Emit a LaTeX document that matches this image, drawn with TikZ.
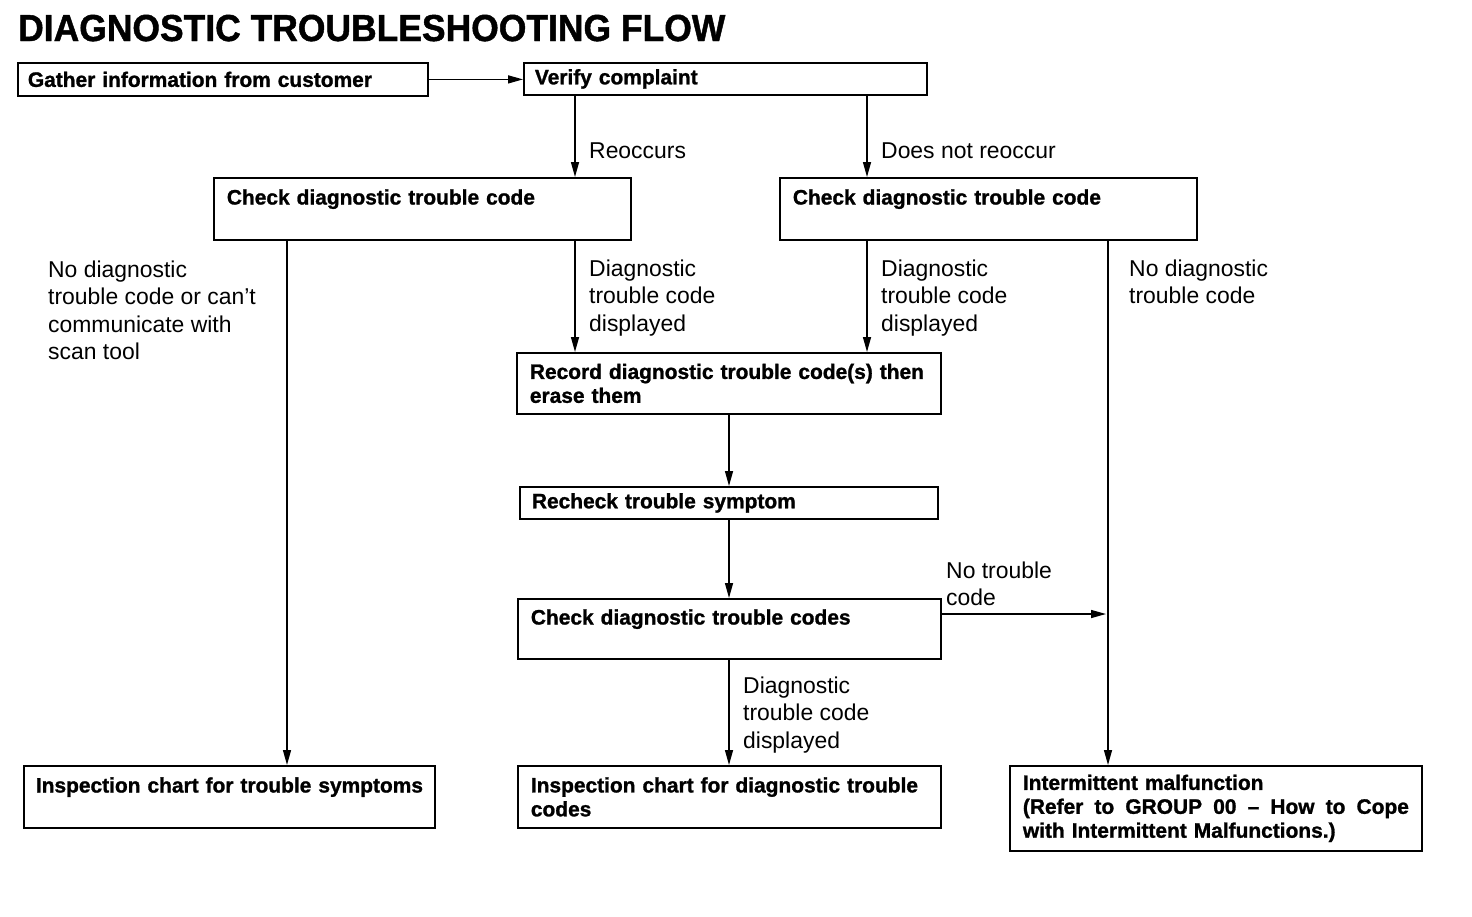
\documentclass[tikz,border=0pt]{standalone}
\usepackage{fontspec}
\setmainfont{Liberation Sans}
\newfontfamily\heavy[FakeBold=1.2,Ligatures=TeX]{Liberation Sans}
\usetikzlibrary{arrows.meta}
\begin{document}
\begin{tikzpicture}[x=1bp,y=-1bp,
  box/.style={draw, line width=1.8bp, anchor=north west, inner xsep=13bp, inner ysep=0pt,
    align=left, font=\fontsize{21}{24}\selectfont\heavy\bfseries},
  lbl/.style={anchor=base west, inner sep=0pt, align=left, font=\fontsize{23}{27.5}\selectfont},
  arr/.style={line width=1.4bp, -{Triangle[length=15bp,width=8bp]}}]
\useasboundingbox (0,0) rectangle (1472,916);
\fill[white] (0,0) rectangle (1472,916);
\node[anchor=base west, inner sep=0pt] (title) at (18,41)
  {\scalebox{0.944}[1]{\fontsize{37.7}{40}\selectfont\heavy\bfseries DIAGNOSTIC TROUBLESHOOTING FLOW}};
% boxes
\node[box, minimum width=410bp, minimum height=33bp, text width=390bp, inner xsep=10bp] (g1) at (17,62) {Gather information from customer};
\node[box, minimum width=403bp, minimum height=32bp, text width=381bp, inner xsep=11bp] (v) at (523,62) {Verify complaint};
\node[box, minimum width=417bp, minimum height=62bp, text width=391bp] (c1) at (213,177) {Check diagnostic trouble code\\ ~};
\node[box, minimum width=417bp, minimum height=62bp, text width=391bp] (c2) at (779,177) {Check diagnostic trouble code\\ ~};
\node[box, minimum width=424bp, minimum height=61bp, text width=398bp] (rec) at (516,352) {Record diagnostic trouble code(s) then\\erase them};
\node[box, minimum width=418bp, minimum height=32bp, text width=394bp, inner xsep=12bp] (rech) at (519,486) {Recheck trouble symptom};
\node[box, minimum width=423bp, minimum height=60bp, text width=397bp] (cc) at (517,598) {Check diagnostic trouble codes\\ ~};
\node[box, minimum width=411bp, minimum height=62bp, text width=395bp, inner xsep=8bp] (i1) at (23,765) {\hspace*{4bp}\mbox{Inspection chart for trouble symptoms}\\ ~};
\node[box, minimum width=423bp, minimum height=62bp, text width=397bp] (i2) at (517,765) {Inspection chart for diagnostic trouble\\codes};
\node[box, minimum width=412bp, minimum height=85bp, text width=386bp] (i3) at (1009,765) {Intermittent malfunction\\\makebox[386bp][l]{(Refer\hfill to\hfill GROUP\hfill 00\hfill –\hfill How\hfill to\hfill Cope}\\with Intermittent Malfunctions.)};
% connectors
\draw[arr] (g1.east) -- (v.west |- g1.east);
\draw[arr] (575,0 |- v.south) -- (575,0 |- c1.north);
\draw[arr] (867,0 |- v.south) -- (867,0 |- c2.north);
\draw[arr] (287,0 |- c1.south) -- (287,0 |- i1.north);
\draw[arr] (575,0 |- c1.south) -- (575,0 |- rec.north);
\draw[arr] (867,0 |- c2.south) -- (867,0 |- rec.north);
\draw[arr] (1108,0 |- c2.south) -- (1108,0 |- i3.north);
\draw[arr] (729,0 |- rec.south) -- (729,0 |- rech.north);
\draw[arr] (729,0 |- rech.south) -- (729,0 |- cc.north);
\draw[arr] (729,0 |- cc.south) -- (729,0 |- i2.north);
\coordinate (jn) at (1106,614);
\draw[arr] (cc.east |- jn) -- (jn);
% labels (base = baseline of last line)
\node[lbl] (l1) at (589,158) {Reoccurs};
\node[lbl] (l2) at (881,158) {Does not reoccur};
\node[lbl] (l3) at (48,359.5) {No diagnostic\\trouble code or can’t\\communicate with\\scan tool};
\node[lbl] (l4) at (589,331) {Diagnostic\\trouble code\\displayed};
\node[lbl] (l5) at (881,331) {Diagnostic\\trouble code\\displayed};
\node[lbl] (l6) at (1129,303.5) {No diagnostic\\trouble code};
\node[lbl] (l7) at (946,605.5) {No trouble\\code};
\node[lbl] (l8) at (743,748) {Diagnostic\\trouble code\\displayed};
\end{tikzpicture}
\end{document}
